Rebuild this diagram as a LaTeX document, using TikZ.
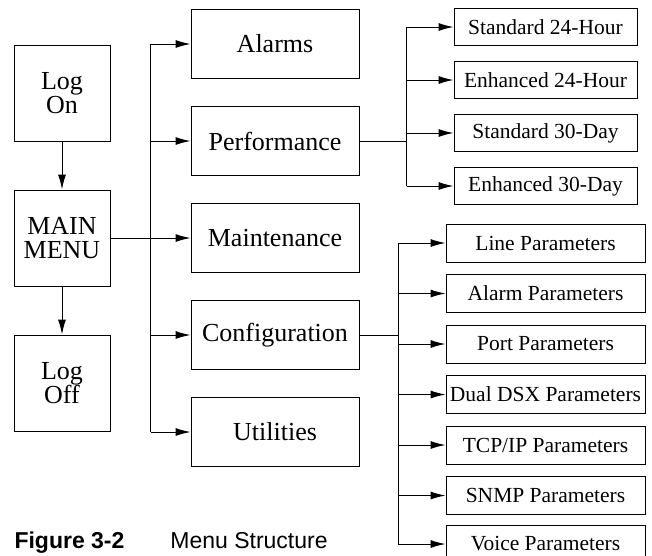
\documentclass[tikz,border=0pt]{standalone}
\usepackage{fontspec}
\setmainfont{Liberation Serif}
\setsansfont{Liberation Sans}
\usetikzlibrary{arrows.meta,positioning,calc}

\begin{document}
\begin{tikzpicture}[
  x=1pt, y=-1pt,
  line width=1pt,
  box/.style={draw, align=center, inner sep=2pt, font=\fontsize{26}{24}\selectfont},
  menubox/.style={box, minimum width=96pt, minimum height=96pt},
  mainbox/.style={box, minimum width=168pt, minimum height=69pt},
  subbox/.style={draw, inner sep=2pt, minimum height=37pt, font=\fontsize{21.5}{24}\selectfont},
  parbox/.style={subbox, minimum width=199pt, minimum height=38pt},
  arrow/.style={-{Latex[length=15pt,width=8pt]}}
]
\useasboundingbox (0,0) rectangle (652,555);
\clip (0,0) rectangle (652,555);

\node[menubox] (logon) at (62,93) {Log\\On};
\node[menubox, below=48pt of logon] (mainmenu) {MAIN\\MENU};
\node[menubox, below=48pt of mainmenu] (logoff) {Log\\Off};

\node[mainbox, right=80pt of mainmenu] (maint) {Maintenance};
\node[mainbox, above=27pt of maint] (perf) {Performance};
\node[mainbox, above=27pt of perf] (alarms) {Alarms};
\node[mainbox, below=27pt of maint] (config) {Configuration};
\node[mainbox, below=27pt of config] (util) {Utilities};

\node[subbox, minimum width=183pt] (std24) at (545.5,27) {Standard 24-Hour};
\node[subbox, minimum width=183pt, below=15pt of std24] (enh24) {Enhanced 24-Hour};
\node[subbox, minimum width=183pt, below=15pt of enh24] (std30) {Standard 30-Day};
\node[subbox, minimum width=183pt, below=15pt of std30] (enh30) {Enhanced 30-Day};

\node[parbox] (linepar) at (545.5,243) {Line Parameters};
\node[parbox, below=11.5pt of linepar] (alarmpar) {Alarm Parameters};
\node[parbox, below=11.5pt of alarmpar] (portpar) {Port Parameters};
\node[parbox, below=11.5pt of portpar] (dsxpar) {Dual DSX Parameters};
\node[parbox, below=11.5pt of dsxpar] (tcppar) {TCP/IP Parameters};
\node[parbox, below=11.5pt of tcppar] (snmppar) {SNMP Parameters};
\node[parbox, below=9.5pt of snmppar] (voicepar) {Voice Parameters};

\node[anchor=base west, inner sep=0pt, font=\sffamily\fontsize{23}{26}\selectfont] (caption) at (14,548)
  {\textbf{Figure 3-2}\hspace{46pt}Menu Structure};

\draw[arrow] (logon) -- (mainmenu);
\draw[arrow] (mainmenu) -- (logoff);
\draw[arrow] (mainmenu) -- (maint);

\coordinate (bus) at ($(mainmenu.east)!0.5!(maint.west)$);
\draw (bus |- alarms) -- (bus |- util);
\foreach \n in {alarms,perf,config,util}
  \draw[arrow] (bus |- \n) -- (\n);

\coordinate (perfbus) at ($(perf.east)!0.5!(std24.west)$);
\draw (perf.east) -- (perfbus |- perf.east);
\draw (perfbus |- std24) -- (perfbus |- enh30);
\foreach \n in {std24,enh24,std30,enh30}
  \draw[arrow] (perfbus |- \n) -- (\n);

\coordinate (confbus) at ($(config.east)!0.45!(linepar.west)$);
\draw (config.east) -- (confbus |- config.east);
\draw (confbus |- linepar) -- (confbus |- voicepar);
\foreach \n in {linepar,alarmpar,portpar,dsxpar,tcppar,snmppar,voicepar}
  \draw[arrow] (confbus |- \n) -- (\n);
\end{tikzpicture}
\end{document}
